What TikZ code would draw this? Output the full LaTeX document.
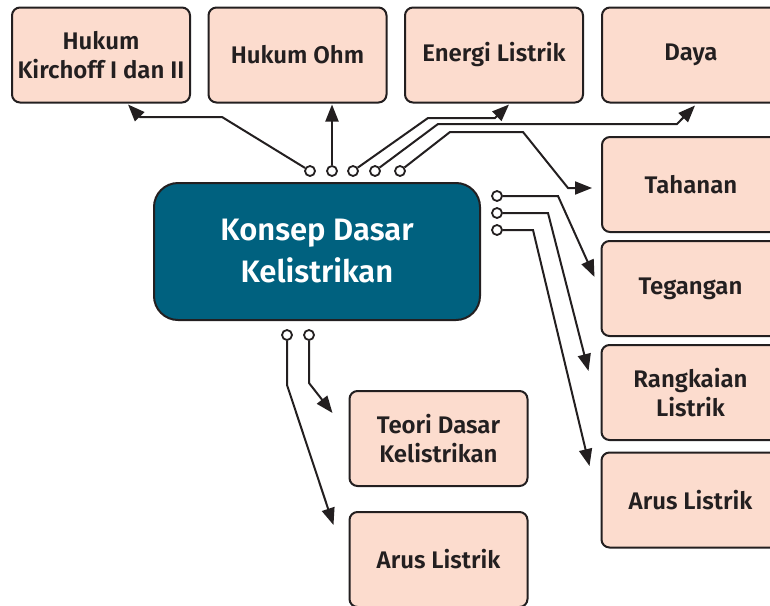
\documentclass[tikz,border=0pt]{standalone}
\usepackage{fontspec}
\setmainfont{Fira Sans}[BoldFont={Fira Sans SemiBold}]
\usetikzlibrary{arrows.meta,calc}
\definecolor{KDInk}{HTML}{231F20}
\definecolor{KDTeal}{HTML}{00617F}
\definecolor{KDPeach}{HTML}{FCDCCE}
\tikzset{
  >={Triangle[length=17pt,width=13pt]},
  kdtopic/.style={rounded corners=8pt, draw=KDInk, line width=2pt, fill=KDPeach,
    align=center, text=KDInk, minimum width=178pt, minimum height=95pt,
    inner sep=0pt, font=\bfseries\fontsize{24}{29}\selectfont},
  kdcore/.style={kdtopic, rounded corners=24pt, fill=KDTeal, text=white,
    minimum width=326pt, minimum height=137pt,
    font=\bfseries\fontsize{31}{42}\selectfont},
  kdsocket/.style={circle, draw=KDInk, line width=1.8pt, fill=white,
    minimum size=10pt, inner sep=0pt},
  kdlink/.style={->, line width=2pt, draw=KDInk}
}
\begin{document}
\begin{tikzpicture}[x=1pt, y=-1pt]
  \useasboundingbox (0,0) rectangle (770,605);

  \node[kdcore] (core) at (317,251.5) {Konsep Dasar\\Kelistrikan};

  \node[kdtopic] (kirchoff) at (101,55) {Hukum\\Kirchoff I dan II};
  \node[kdtopic] (ohm) at (297.5,55) {Hukum Ohm};
  \node[kdtopic] (energi) at (494,55) {Energi Listrik};
  \node[kdtopic] (daya) at (691,55) {Daya};
  \node[kdtopic] (tahanan) at (691,184.5) {Tahanan};
  \node[kdtopic] (tegangan) at (690.5,288.5) {Tegangan};
  \node[kdtopic] (rangkaian) at (690.5,392.5) {Rangkaian\\Listrik};
  \node[kdtopic] (arusR) at (690.5,500) {Arus Listrik};
  \node[kdtopic] (teori) at (438.5,438.5) {Teori Dasar\\Kelistrikan};
  \node[kdtopic] (arusB) at (438.5,559.5) {Arus Listrik};

  % sockets on the core
  \node[kdsocket] (t1) at (310,171) {};
  \node[kdsocket] (t2) at (332,171) {};
  \node[kdsocket] (t3) at (353,171) {};
  \node[kdsocket] (t4) at (375,171) {};
  \node[kdsocket] (t5) at (400,171) {};
  \node[kdsocket] (r1) at (497,196) {};
  \node[kdsocket] (r2) at (497,213) {};
  \node[kdsocket] (r3) at (497,230) {};
  \node[kdsocket] (b1) at (287,335) {};
  \node[kdsocket] (b2) at (309,335) {};

  \draw[kdlink] (t1) -- (222,117) -- (140,117) -- ($(kirchoff.south)+(27,1)$);
  \draw[kdlink, shorten >=1pt] (t2) -- (t2 |- ohm.south);
  \draw[kdlink] (t3) -- (428,118) -- (495,118) -- ($(energi.south)+(15,1)$);
  \draw[kdlink] (t4) -- (438,124) -- (677,124) -- ($(daya.south)+(4,2)$);
  \draw[kdlink] (t5) -- (450,132) -- (523,132) -- (568,188) -- ($(tahanan.west)+(-9,3.5)$);
  \draw[kdlink] (r1) -- (558,196) -- ($(tegangan.west)+(-6,-11.5)$);
  \draw[kdlink] (r2) -- (548,213) -- ($(rangkaian.west)+(-12,-21.5)$);
  \draw[kdlink] (r3) -- (533,230) -- ($(arusR.west)+(-11,-34)$);
  \draw[kdlink] (b2) -- (309,383) -- ($(teori.west)+(-16,-25.5)$);
  \draw[kdlink] (b1) -- (287,385) -- ($(arusB.west)+(-15,-34.5)$);
\end{tikzpicture}
\end{document}
